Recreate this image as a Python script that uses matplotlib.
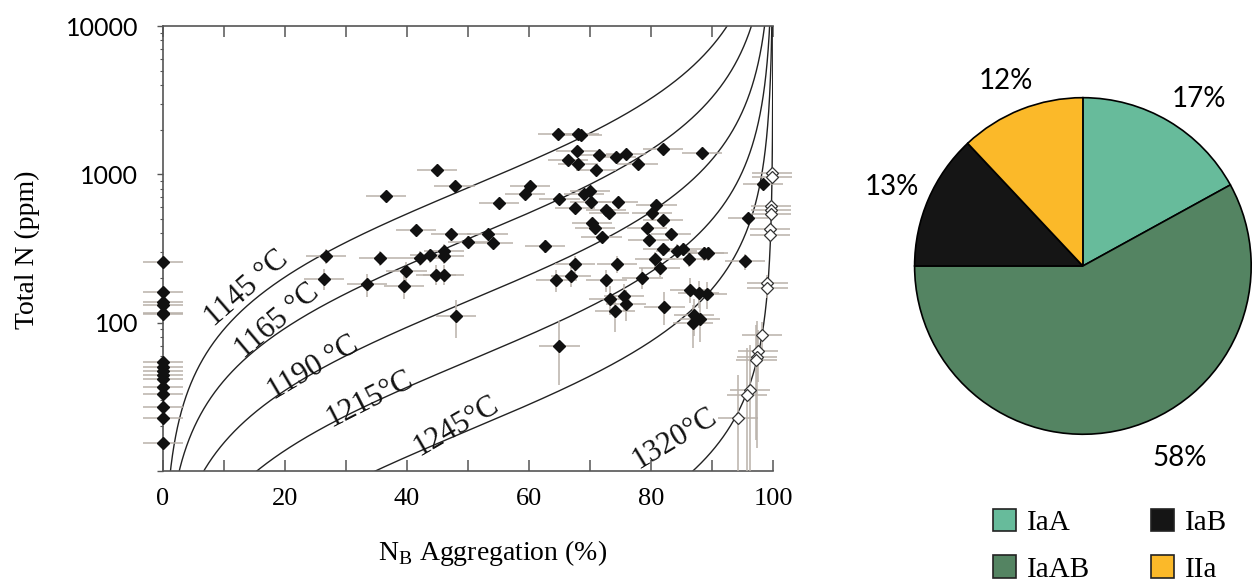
import numpy as np
import matplotlib.pyplot as plt
from matplotlib.patches import Patch
from matplotlib.ticker import MultipleLocator, FixedLocator, FixedFormatter, LogLocator, NullFormatter

plt.rcParams['mathtext.fontset'] = 'custom'
plt.rcParams['mathtext.rm'] = 'Liberation Serif'
SERIF = 'Liberation Serif'
SANS = 'Lato'

# isotherms: second order A->B kinetics, k = A exp(-Ea/kT)
iso_temps = [1145, 1165, 1190, 1215, 1245, 1320]
iso_labels = ['1145 °C', '1165 °C', '1190 °C', '1215°C', '1245°C', '1320°C']
EA_K = 81160.0          # activation energy / k_B (K)
A_RATE = 293608.0       # ppm^-1 s^-1
RES_TIME = 0.95e9 * 3.156e7   # mantle residence time (s)

# diamonds without B centres, plotted at 0 %
zero_n = [255, 162, 137, 132, 117, 115, 54, 50.5, 47.4, 44.3, 41.7, 37.0,
          33.0, 27.1, 22.6, 15.4]

# IaAB diamonds (filled)
black_x = [26.7, 26.4, 33.4, 39.5, 39.9, 44.8, 46.0, 42.1, 43.8, 46.1, 46.0, 41.5,
           47.2, 50.0, 53.2, 54.1, 62.6, 44.9, 47.8, 36.6, 60.2, 59.3, 55.1, 64.7,
           68.1, 68.6, 67.8, 71.4, 74.3, 75.9, 82.0, 88.4, 66.4, 68.0, 71.0, 77.8,
           98.4, 69.0, 70.0, 65.0, 67.5, 70.1, 74.6, 72.6, 73.1, 80.9, 80.2, 82.0,
           95.9, 70.3, 70.8, 71.9, 79.4, 79.6, 83.3, 82.0, 84.2, 85.3, 86.3, 88.7,
           89.4, 80.7, 81.4, 74.4, 67.6, 95.4, 66.9, 64.5, 72.7, 78.6, 86.4, 87.8,
           89.2, 73.2, 75.6, 75.9, 74.1, 82.2, 87.1, 88.0, 86.9, 48.0, 65.0, 35.5]
black_n = [281, 197, 181, 176, 224, 211, 211, 274, 284, 306, 281, 423,
           397, 352, 397, 346, 328, 1076, 834, 710, 834, 741, 640, 1862,
           1882, 1836, 1437, 1344, 1308, 1380, 1475, 1393, 1244, 1169, 1077, 1181,
           865, 741, 774, 678, 589, 650, 650, 577, 545, 625, 551, 494,
           510, 470, 438, 377, 436, 362, 397, 312, 306, 315, 269, 294,
           294, 269, 234, 249, 249, 259, 206, 194, 194, 201, 167, 158,
           155, 145, 151, 134, 119, 128, 113, 106, 100, 111, 70, 274]
BLACK_NERR = 32.0    # ppm
XERR = 3.3           # % B

# fully aggregated diamonds (open)
white_x = [99.8, 99.8, 99.7, 99.7, 99.7, 99.5, 99.5, 99.1, 99.1, 98.2, 97.6, 97.4,
           97.3, 96.2, 95.7, 94.3]
white_n = [1020, 959, 608, 571, 537, 430, 392, 185, 171, 82.6, 64.7, 58.3,
           56.3, 35.3, 32.5, 22.6]
white_nerr = [30, 30, 30, 30, 30, 30, 30, 25, 25, 18, 25, 44,
              40, 35, 35, 22]

pie_labels = ['IaA', 'IaAB', 'IaB', 'IIa']
pie_share = [17, 58, 13, 12]
pie_colors = ['#67bb9b', '#548462', '#151515', '#fbb929']
pct_pos = [(0.69, 0.99), (0.576, -1.14), (-1.135, 0.47), (-0.46, 1.10)]

BAR_C = '#b9b1aa'

fig = plt.figure(figsize=(12.54, 5.82), dpi=100)
ax = fig.add_axes([0.1300, 0.1907, 0.4864, 0.7646])
ax.set_yscale('log')
ax.set_xlim(0, 100)
ax.set_ylim(10, 10000)

# isotherm curves
z = np.linspace(-10, 14, 6000)
for T, lab in zip(iso_temps, iso_labels):
    c = np.exp(EA_K / (T + 273.15)) / (A_RATE * RES_TIME)
    f = 1.0 / (1.0 + np.exp(-z))
    ax.plot(100 * f, c * np.exp(z), color='#222222', lw=1.0, zorder=2)

lab_pos = [(13.8, 170), (18.7, 103), (24.6, 49.7), (33.9, 30.6), (48.0, 20.1), (83.9, 16.5)]
lab_rot = [41, 40, 30.5, 27, 30, 31]
for lab, (lx, ly), r in zip(iso_labels, lab_pos, lab_rot):
    ax.text(lx, ly, lab, rotation=r, ha='center', va='center', fontsize=22,
            family=SERIF, color='#111111', rotation_mode='anchor', zorder=4)

# error bars
zero_x = np.zeros(len(zero_n))
ax.errorbar(zero_x, zero_n, xerr=XERR, fmt='none', ecolor=BAR_C, elinewidth=1.1,
            capsize=0, clip_on=False, zorder=3)
ax.errorbar(black_x, black_n, xerr=XERR, fmt='none', ecolor=BAR_C, elinewidth=1.1,
            capsize=0, clip_on=False, zorder=3)
ax.errorbar(black_x, black_n, yerr=BLACK_NERR, fmt='none', ecolor=BAR_C, elinewidth=1.1,
            capsize=0, zorder=3)
ax.errorbar(white_x, white_n, xerr=XERR, fmt='none', ecolor=BAR_C, elinewidth=1.1,
            capsize=0, clip_on=False, zorder=3)
wn = np.array(white_n)
we = np.array(white_nerr, dtype=float)
ax.errorbar(white_x, white_n, yerr=[np.minimum(we, wn - 1), we], fmt='none',
            ecolor=BAR_C, elinewidth=1.1, capsize=0, zorder=3)

ax.plot(zero_x, zero_n, 'D', color='#111111', ms=6.5, clip_on=False, zorder=5)
ax.plot(black_x, black_n, 'D', color='#111111', ms=6.5, clip_on=False, zorder=5)
ax.plot(white_x, white_n, 'D', mfc='white', mec='#333333', mew=0.9, ms=6.5,
        clip_on=False, zorder=6)

# axes styling
for s in ['left', 'bottom', 'top']:
    ax.spines[s].set_color('#555555')
    ax.spines[s].set_linewidth(1.2)
ax.spines['right'].set_visible(False)

ax.xaxis.set_major_locator(MultipleLocator(20))
ax.xaxis.set_minor_locator(MultipleLocator(10))
ax.tick_params(axis='x', which='both', direction='in', top=True, length=8,
               width=1.1, color='#555555', pad=12)
for t in ax.get_xticklabels():
    t.set_family(SERIF)
    t.set_fontsize(19)

ax.yaxis.set_major_locator(FixedLocator([10, 100, 1000, 10000]))
ax.yaxis.set_major_formatter(FixedFormatter(['', '100', '1000', '10000']))
ax.yaxis.set_minor_locator(LogLocator(base=10, subs=np.arange(2, 10)))
ax.yaxis.set_minor_formatter(NullFormatter())
ax.tick_params(axis='y', which='major', direction='out', length=4, width=1.0,
               color='#555555', pad=14)
ax.tick_params(axis='y', which='minor', direction='out', length=2.5, width=0.8,
               color='#555555')
for t in ax.get_yticklabels():
    t.set_family(SANS)
    t.set_fontsize(18)

ax.text(-0.223, 0.497, 'Total N (ppm)', transform=ax.transAxes, rotation=90,
        ha='center', va='center', fontsize=20, family=SERIF)
ax.text(0.541, -0.185, r'N$_{\rm B}$ Aggregation (%)', transform=ax.transAxes,
        ha='center', va='center', fontsize=20, family=SERIF)

# pie chart of diamond types
ax2 = fig.add_axes([0.728, 0.2509, 0.2711, 0.5842])
wedges, _ = ax2.pie(pie_share, colors=pie_colors, startangle=90, counterclock=False,
                    wedgeprops=dict(edgecolor='black', linewidth=1.2))
ax2.set_xlim(-1.01, 1.01)
ax2.set_ylim(-1.01, 1.01)
for v, (px, py) in zip(pie_share, pct_pos):
    ax2.text(px, py, f'{v}%', ha='center', va='center', fontsize=20, family=SANS,
             clip_on=False)

handles = [Patch(facecolor=c, edgecolor='#222222', linewidth=1.2) for c in pie_colors]
fig.legend(handles, pie_labels, loc='center', bbox_to_anchor=(0.885, 0.062), ncol=2,
           frameon=False, prop=dict(family=SERIF, size=21), handlelength=0.8,
           handleheight=0.8, handletextpad=0.35, columnspacing=2.1, labelspacing=0.65)

fig.savefig('out.png', dpi=100)
